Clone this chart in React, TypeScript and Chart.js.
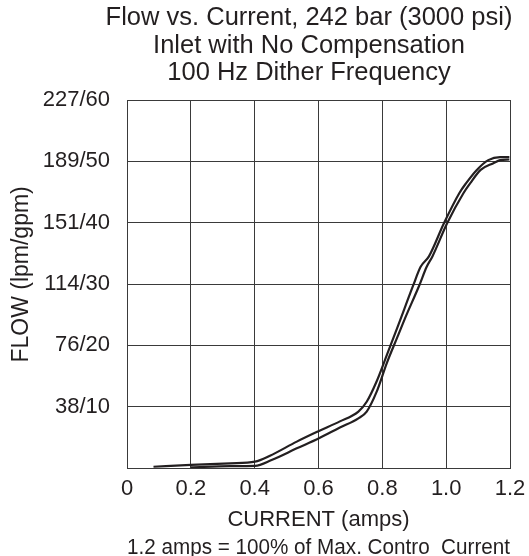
import { useEffect, useRef } from 'react'
import { Chart, registerables } from 'chart.js'

Chart.register(...registerables)

const titleLines = ['Flow vs. Current, 242 bar (3000 psi)', 'Inlet with No Compensation', '100 Hz Dither Frequency']
const xTitleLines = ['CURRENT (amps)', '1.2 amps = 100% of Max. Contro  Current']
const yTitle = '   FLOW (lpm/gpm)'

const xTickLabels = ['0', '0.2', '0.4', '0.6', '0.8', '1.0', '1.2']
const yTickLabels = ['', '38/10', '76/20', '114/30', '151/40', '189/50', '227/60']

// upper branch (left curve)
const upCurrent = [0.083, 0.2, 0.323, 0.401, 0.448, 0.532, 0.6, 0.667, 0.725, 0.751, 0.782, 0.814, 0.85, 0.897, 0.92, 0.946, 0.993, 1.041, 1.062, 1.096, 1.132, 1.169, 1.198]
const upFlow = [0.2, 0.5, 0.76, 1.03, 2.0, 4.3, 6.0, 7.6, 9.2, 10.8, 14.1, 18.4, 23.3, 29.8, 32.8, 34.5, 39.9, 44.8, 46.4, 48.6, 50.2, 50.7, 50.7]
// lower branch (right curve)
const downCurrent = [0.2, 0.323, 0.401, 0.453, 0.532, 0.6, 0.667, 0.725, 0.751, 0.782, 0.814, 0.85, 0.871, 0.916, 0.939, 0.957, 1.003, 1.054, 1.075, 1.108, 1.148, 1.169, 1.198]
const downFlow = [0.1, 0.3, 0.35, 1.3, 3.2, 4.8, 6.6, 8.1, 9.2, 12.4, 17.1, 21.7, 24.4, 29.8, 32.8, 34.5, 39.9, 44.8, 46.4, 48.6, 49.7, 50.2, 50.3]

const FONT = '"Liberation Sans", Arial, Helvetica, sans-serif'
const INK = '#231f20'

const toPoints = (xs: number[], ys: number[]) => xs.map((x, i) => ({ x, y: ys[i] }))

// shift the title centre toward the plot, like the original
const titleShift = {
  id: 'titleShift',
  afterLayout(chart: any) {
    const t = chart.titleBlock
    if (t) {
      t.left = 89
      t.right = 529
    }
  },
}

export default function App() {
  const canvasRef = useRef<HTMLCanvasElement>(null)
  const chartRef = useRef<Chart | null>(null)

  useEffect(() => {
    if (!canvasRef.current) return
    chartRef.current?.destroy()

    const lineStyle = {
      borderColor: INK,
      borderWidth: 2.2,
      pointRadius: 0,
      cubicInterpolationMode: 'monotone' as const,
      fill: false,
    }

    chartRef.current = new Chart(canvasRef.current, {
      type: 'line',
      data: {
        datasets: [
          { data: toPoints(upCurrent, upFlow), ...lineStyle },
          { data: toPoints(downCurrent, downFlow), ...lineStyle },
        ],
      },
      plugins: [titleShift],
      options: {
        animation: false,
        responsive: true,
        maintainAspectRatio: false,
        layout: { padding: { left: 0, right: 19, top: 0, bottom: 0 } },
        plugins: {
          legend: { display: false },
          tooltip: { enabled: false },
          title: {
            display: true,
            text: titleLines,
            color: INK,
            font: { family: FONT, size: 25.5, weight: 'normal', lineHeight: 27.5 / 25.5 },
            padding: { top: 4.25, bottom: 13.25 },
          },
        },
        scales: {
          x: {
            type: 'linear',
            min: 0,
            max: 1.2,
            afterFit: (s: any) => {
              s.height = 88
              s.paddingLeft = 0
              s.paddingRight = 0
            },
            ticks: {
              stepSize: 0.2,
              padding: 8,
              color: INK,
              font: { family: FONT, size: 22 },
              maxRotation: 0,
              callback: (_v: any, i: number) => xTickLabels[i],
            },
            grid: { color: '#3a3a3a', lineWidth: 1, drawTicks: false },
            border: { color: '#3a3a3a', width: 1 },
            title: {
              display: true,
              text: xTitleLines,
              color: INK,
              font: { family: FONT, size: 22, lineHeight: 28 / 22 },
              padding: { top: 0, bottom: -6 },
            },
          },
          y: {
            type: 'linear',
            min: 0,
            max: 60,
            afterFit: (s: any) => { s.width = 127 },
            ticks: {
              stepSize: 10,
              padding: 17,
              color: INK,
              font: { family: FONT, size: 22 },
              callback: (_v: any, i: number) => yTickLabels[i],
            },
            grid: { color: '#3a3a3a', lineWidth: 1, drawTicks: false },
            border: { color: '#3a3a3a', width: 1 },
            title: {
              display: true,
              text: yTitle,
              color: INK,
              font: { family: FONT, size: 23 },
              padding: { top: 8, bottom: 0 },
            },
          },
        },
      },
    })

    return () => { chartRef.current?.destroy() }
  }, [])

  return (
    <div style={{ position: 'absolute', left: 0, top: 0, width: '529px', height: '556px', background: '#fff' }}>
      <canvas ref={canvasRef} />
    </div>
  )
}
